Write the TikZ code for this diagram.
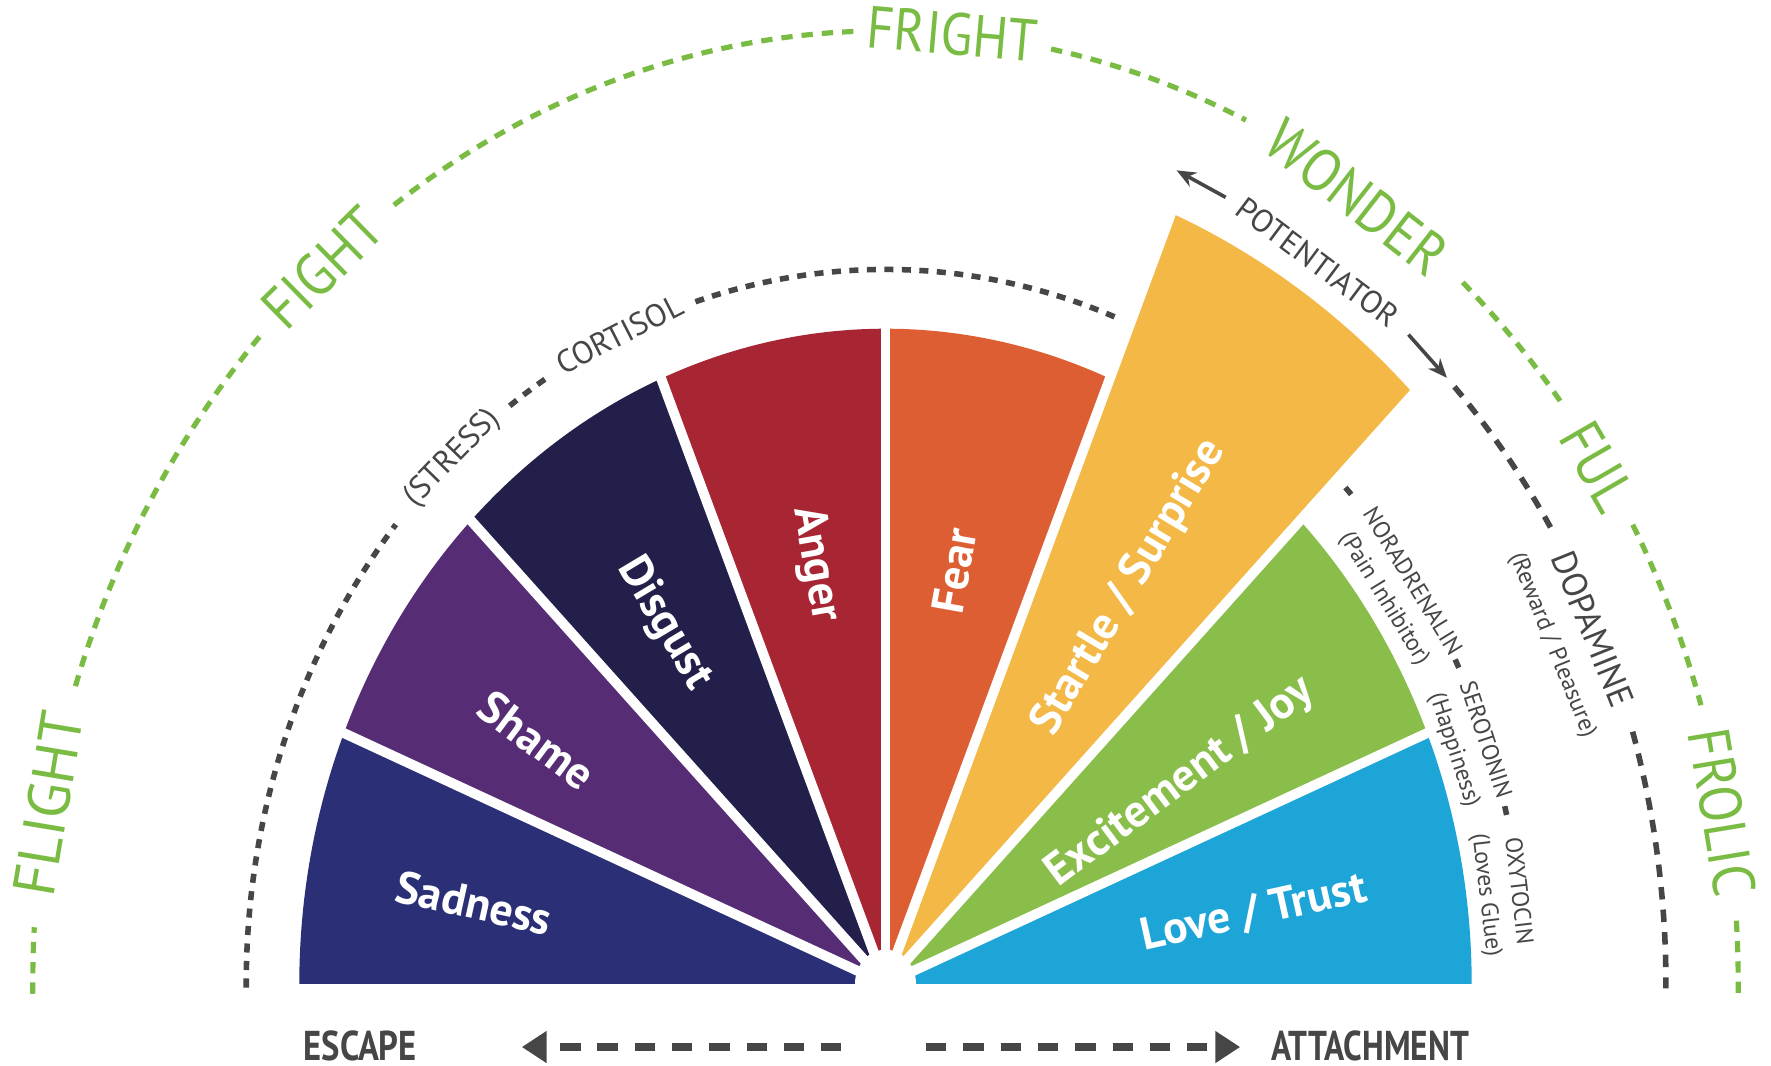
\documentclass[tikz,border=0pt]{standalone}
\usepackage{fontspec}
\setmainfont{PT Sans}
\usetikzlibrary{arrows.meta}

\definecolor{grn}{RGB}{122,188,67}
\definecolor{drk}{RGB}{70,70,70}
\definecolor{cSad}{RGB}{43,47,117}
\definecolor{cShame}{RGB}{86,45,117}
\definecolor{cDis}{RGB}{34,31,74}
\definecolor{cAng}{RGB}{168,37,51}
\definecolor{cFear}{RGB}{222,94,52}
\definecolor{cStart}{RGB}{243,184,69}
\definecolor{cExc}{RGB}{137,190,75}
\definecolor{cLove}{RGB}{30,165,216}

\tikzset{
 greenarc/.style={draw=grn, line width=1.3pt, dash pattern=on 0.10cm off 0.08cm},
 darkarc/.style={draw=drk, line width=1.4pt, dash pattern=on 0.08cm off 0.075cm},
 darkarcb/.style={draw=drk, line width=1.4pt, dash pattern=on 0.11cm off 0.09cm},
 greenlabel/.style={text=grn, font=\fontsize{15}{15}\selectfont, inner sep=0pt},
 darklabel/.style={text=drk, font=\fontsize{8}{8}\selectfont, inner sep=0pt},
 hormone/.style={text=drk, align=center, inner sep=0pt, font=\fontsize{6}{8}\selectfont},
 wedgelabel/.style={text=white, font=\bfseries\fontsize{11.5}{11.5}\selectfont, inner sep=0pt},
 gapline/.style={draw=white, line width=2.5pt},
 bottomlabel/.style={text=drk, font=\bfseries\fontsize{10.5}{10.5}\selectfont, inner sep=0pt},
 bottomarrow/.style={draw=drk, line width=2pt, dash pattern=on 0.18cm off 0.15cm, -{Triangle[length=0.22cm, width=0.27cm]}},
 thinarrow/.style={draw=drk, line width=0.9pt, -{Stealth[length=0.17cm, width=0.14cm]}},
}

\begin{document}
\begin{tikzpicture}
\fill[white] (-7.84,-0.72) rectangle (7.84,8.71);
\useasboundingbox (-7.84,-0.72) rectangle (7.84,8.71);

\begin{scope}[yscale=1.1175]
 % outer green arc
 \draw[greenarc] (180.6:7.55) arc (180.6:176.6:7.55);
 \draw[greenarc] (161.8:7.55) arc (161.8:137.2:7.55);
 \draw[greenarc] (125.2:7.55) arc (125.2:92.0:7.55);
 \draw[greenarc] (78.8:7.55) arc (78.8:65.0:7.55);
 \draw[greenarc] (47.4:7.55) arc (47.4:37.2:7.55);
 \draw[greenarc] (28.8:7.55) arc (28.8:17.0:7.55);
 \draw[greenarc] (3.8:7.55) arc (3.8:-0.6:7.55);

 \node[greenlabel, rotate=80.5] (flight) at (169.1:7.55) {\scalebox{0.98}[1]{FLIGHT}};
 \node[greenlabel, rotate=44.5] (fight) at (131.3:7.55) {\scalebox{0.9}[1]{FIGHT}};
 \node[greenlabel, rotate=-5] (fright) at (85.5:7.55) {\scalebox{0.88}[1]{FRIGHT}};
 \node[greenlabel, rotate=-38] (wonder) at (56.2:7.50) {\scalebox{0.9}[1]{WONDER}};
 \node[greenlabel, rotate=-60] (ful) at (33:7.52) {\scalebox{0.9}[1]{FUL}};
 \node[greenlabel, rotate=-80.6] (frolic) at (10.4:7.53) {\scalebox{0.9}[1]{FROLIC}};

 % inner dark arc (cortisol)
 \draw[darkarc] (180.3:5.66) arc (180.3:140.0:5.66);
 \draw[darkarc] (126.0:5.66) arc (126.0:121.8:5.66);
 \draw[darkarc] (107.3:5.66) arc (107.3:68.3:5.66);
 \draw[darkarc] (44.0:5.66) arc (44.0:42.8:5.66);
 \draw[darkarc] (27.0:5.66) arc (27.0:25.9:5.66);
 \draw[darkarc] (14.4:5.66) arc (14.4:13.3:5.66);

 % outer dark arc (dopamine)
 \draw[darkarcb] (43.2:6.91) arc (43.2:31.5:6.91);
 \draw[darkarcb] (16.8:6.91) arc (16.8:-0.3:6.91);

 % wedges
 \fill[cSad]   (0,0) -- (180:5.19) arc (180:157.5:5.19) -- cycle;
 \fill[cShame] (0,0) -- (157.5:5.19) arc (157.5:135:5.19) -- cycle;
 \fill[cDis]   (0,0) -- (135:5.19) arc (135:112.5:5.19) -- cycle;
 \fill[cAng]   (0,0) -- (112.5:5.19) arc (112.5:90:5.19) -- cycle;
 \fill[cFear]  (0,0) -- (90:5.19) arc (90:67.5:5.19) -- cycle;
 \fill[cStart] (0,0) -- (67.5:6.61) arc (67.5:45:6.61) -- cycle;
 \fill[cExc]   (0,0) -- (45:5.19) arc (45:22.5:5.19) -- cycle;
 \fill[cLove]  (0,0) -- (22.5:5.19) arc (22.5:0:5.19) -- cycle;

 \coordinate (c0) at (0,0);
 \draw[gapline] (c0) -- (157.5:5.4);
 \draw[gapline] (c0) -- (135:5.4);
 \draw[gapline] (c0) -- (112.5:5.4);
 \draw[gapline] (c0) -- (90:5.4);
 \draw[gapline] (c0) -- (67.5:6.66);
 \draw[gapline] (c0) -- (45:6.66);
 \draw[gapline] (c0) -- (22.5:5.4);
 \fill[white] (0.27,0) arc (0:180:0.27) -- cycle;

 % dark labels
 \node[darklabel, rotate=45.8] (stress) at (132.6:5.66) {(STRESS)};
 \node[darklabel, rotate=27.1] (cortisol) at (114.6:5.66) {CORTISOL};
 \node[darklabel, rotate=-36.8] (potentiator) at (56.2:6.88) {POTENTIATOR};
 \node[hormone, rotate=-68, font=\fontsize{6}{9.4}\selectfont] (dopamine) at (24.3:6.68)
   {{\fontsize{8.8}{9}\selectfont DOPAMINE}\\(Reward / Pleasure)};
 \node[hormone, rotate=-58.4] (noradrenalin) at (34.5:5.50) {NORADRENALIN\\(Pain Inhibitor)};
 \node[hormone, rotate=-71.8] (serotonin) at (20.1:5.50) {SEROTONIN\\(Happiness)};
 \node[hormone, rotate=-83.3] (oxytocin) at (7.5:5.50) {OXYTOCIN\\(Loves Glue)};

 \coordinate (pa1) at (64.2:6.92);
 \coordinate (pa2) at (68.2:6.94);
 \coordinate (pb1) at (48.0:6.92);
 \coordinate (pb2) at (44.0:6.91);
 \draw[thinarrow] (pa1) -- (pa2);
 \draw[thinarrow] (pb1) -- (pb2);

 % wedge labels
 \node[wedgelabel, rotate=-12.5] (sadness) at (170:3.70) {Sadness};
 \node[wedgelabel, rotate=-36.75] (shame) at (148:3.64) {Shame};
 \node[wedgelabel, rotate=-59.1] (disgust) at (124.5:3.46) {Disgust};
 \node[wedgelabel, rotate=-79.9] (anger) at (100.6:3.38) {Anger};
 \node[wedgelabel, rotate=79.9] (fear) at (79.4:3.33) {Fear};
 \node[wedgelabel, rotate=59.1] (startle) at (55.5:3.81) {Startle / Surprise};
 \node[wedgelabel, rotate=36.75] (excitement) at (31.4:3.06) {Excitement / Joy};
 \node[wedgelabel, rotate=12.5] (love) at (9.8:3.31) {Love / Trust};
\end{scope}

% bottom
\node[bottomlabel] (escape) at (-4.65,-0.55) {\scalebox{0.83}[1]{ESCAPE}};
\node[bottomlabel] (attachment) at (4.29,-0.55) {\scalebox{0.8}[1]{ATTACHMENT}};
\coordinate (la0) at (-0.39,-0.56);
\coordinate (la1) at (-3.22,-0.56);
\coordinate (ra0) at (0.36,-0.56);
\coordinate (ra1) at (3.14,-0.56);
\draw[bottomarrow] (la0) -- (la1);
\draw[bottomarrow] (ra0) -- (ra1);
\end{tikzpicture}
\end{document}
